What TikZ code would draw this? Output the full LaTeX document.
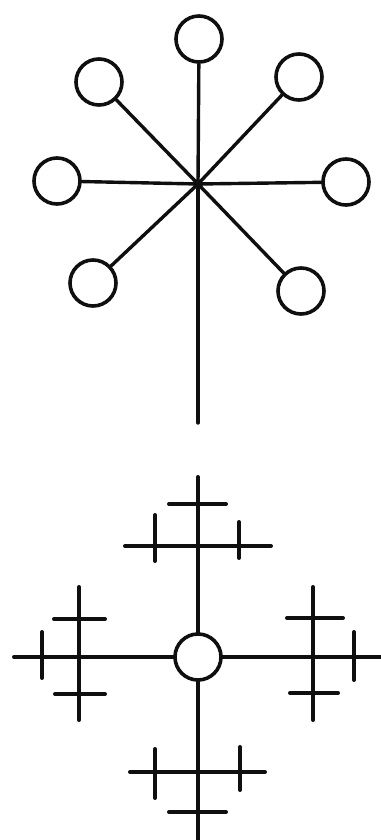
\documentclass[tikz,border=0pt]{standalone}
\usepackage{tikz}
\definecolor{GlyphInk}{gray}{0.06}

\begin{document}
\begin{tikzpicture}[x=1pt,y=-1pt,
  ring/.style={draw=GlyphInk,circle,line width=3.6pt,minimum size=46pt,inner sep=0pt},
  hub/.style={circle,fill=GlyphInk,minimum size=10pt,inner sep=0pt},
  spoke/.style={line width=3.4pt,draw=GlyphInk,line cap=round},
  bar/.style={line width=4pt,draw=GlyphInk,line cap=round}]
  \useasboundingbox (0,0) rectangle (380,840);
  % upper figure: hub with seven rings and a stem
  \node[hub] (hub) at (198,184) {};
  \node[ring] (n) at (199,39) {};
  \node[ring] (ne) at (299,77) {};
  \node[ring] (e) at (346,182) {};
  \node[ring] (se) at (301,291) {};
  \node[ring] (sw) at (93,283) {};
  \node[ring] (w) at (57,181) {};
  \node[ring] (nw) at (99,82) {};
  \coordinate (stem) at (198,423);
  \foreach \r in {n,ne,e,se,sw,w,nw}
    \draw[spoke] (hub.center) -- (\r);
  \draw[spoke] (hub.center) -- (stem);
  % lower figure: ring with four crossed arms
  \node[ring] (eye) at (198,657) {};
  \coordinate (up) at (198,477);
  \coordinate (down) at (198,845);
  \coordinate (left) at (14,657);
  \coordinate (right) at (385,657);
  \foreach \t in {up,down,left,right}
    \draw[bar] (eye) -- (\t);
  % top arm
  \draw[bar] (125,546) -- (271,546);
  \draw[bar] (169,504) -- (226,504);
  \draw[bar] (155,515) -- (155,561);
  \draw[bar] (239,522) -- (239,558);
  % bottom arm
  \draw[bar] (130,772) -- (265,772);
  \draw[bar] (169,812) -- (226,812);
  \draw[bar] (155,749) -- (155,798);
  \draw[bar] (240,747) -- (240,790);
  % left arm
  \draw[bar] (79,587) -- (79,720);
  \draw[bar] (54,619) -- (105,619);
  \draw[bar] (55,694) -- (105,694);
  \draw[bar] (42,632) -- (42,678);
  % right arm
  \draw[bar] (313,587) -- (313,720);
  \draw[bar] (287,618) -- (343,618);
  \draw[bar] (290,693) -- (338,693);
  \draw[bar] (354,632) -- (354,680);
\end{tikzpicture}
\end{document}
